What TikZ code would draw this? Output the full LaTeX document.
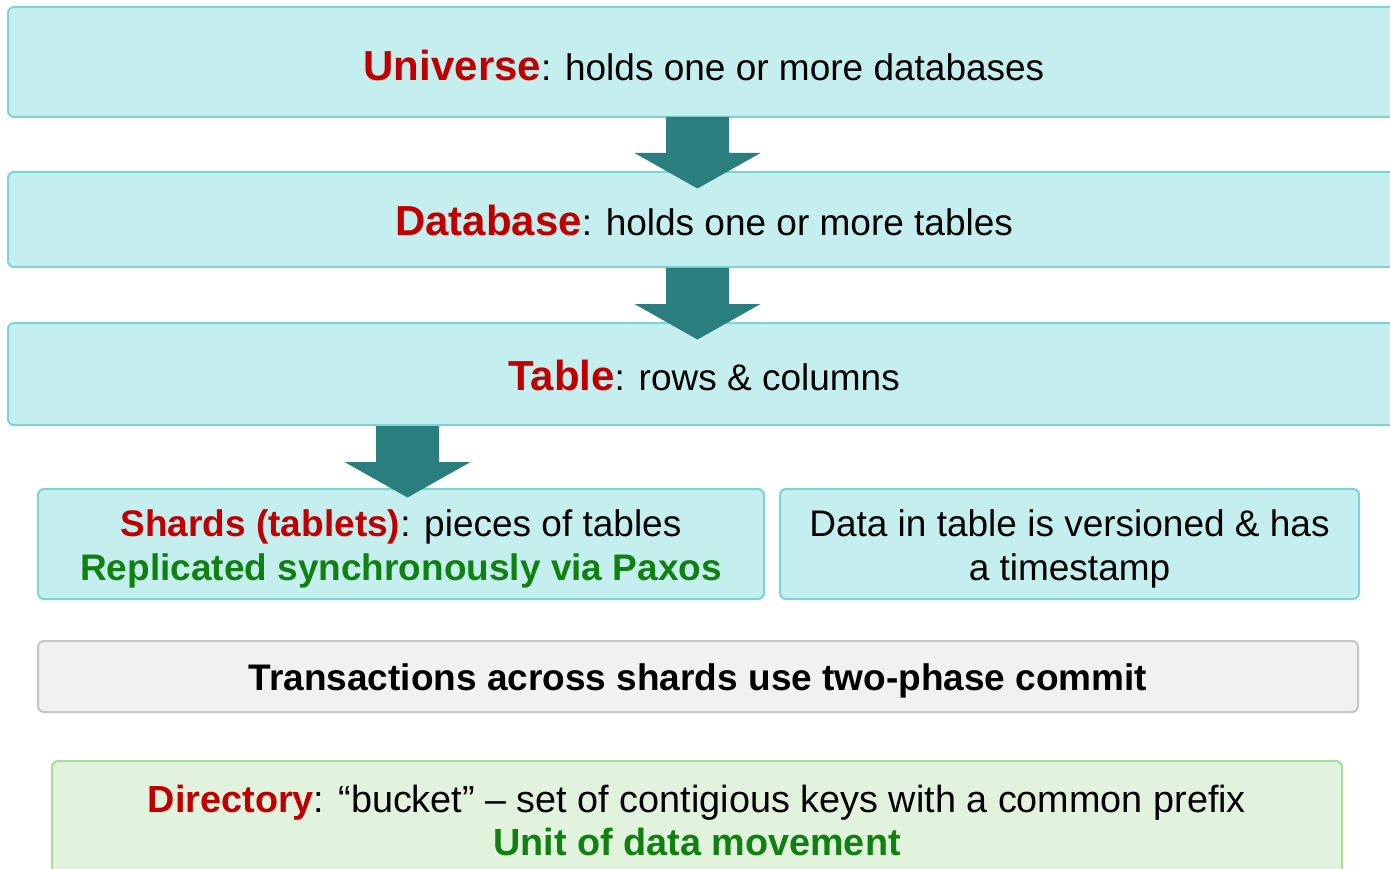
\documentclass[tikz,border=0pt]{standalone}
\usepackage{fontspec}
\setmainfont{Liberation Sans}
\definecolor{tealfill}{RGB}{197,239,239}
\definecolor{tealline}{RGB}{125,212,212}
\definecolor{arrowc}{RGB}{42,127,126}
\definecolor{redc}{RGB}{192,0,0}
\definecolor{greenc}{RGB}{16,128,16}
\definecolor{greyfill}{RGB}{241,241,241}
\definecolor{greyline}{RGB}{196,196,196}
\definecolor{gfill}{RGB}{225,242,221}
\definecolor{gline}{RGB}{168,221,160}
\newcommand\reg{\fontsize{37}{44}\selectfont}
\newcommand\bigb{\fontsize{42}{44}\selectfont\bfseries\color{redc}}
\newcommand\redb[1]{{\bfseries\color{redc}#1}}
\newcommand\grnb[1]{{\bfseries\color{greenc}#1}}
\newcommand\lift[1]{\rule{0pt}{#1}}
\begin{document}
\begin{tikzpicture}[x=1pt,y=1pt,
  base/.style={rounded corners=6pt, line width=2pt, inner sep=0pt, align=center, font=\reg},
  tealbox/.style={base, draw=tealline, fill=tealfill},
  greybox/.style={base, draw=greyline, fill=greyfill},
  greenbox/.style={base, draw=gline, fill=gfill},
  blockarr/.style={fill=arrowc}]
\useasboundingbox (0,0) rectangle (1390,-869);
\node[tealbox, minimum width=1392pt, minimum height=110pt] (uni) at (704,-62)
  {\lift{38pt}{\bigb Universe}: holds one or more databases};
\node[tealbox, minimum width=1392pt, minimum height=95pt] (db) at (704,-219.5)
  {\lift{33pt}{\bigb Database}: holds one or more tables};
\node[tealbox, minimum width=1392pt, minimum height=102pt] (tab) at (704,-374)
  {\lift{34pt}{\bigb Table}: rows \& columns};
\node[tealbox, minimum width=726pt, minimum height=110pt] (sh) at (401,-544)
  {\lift{37pt}\redb{Shards (tablets)}: pieces of tables\\ \grnb{Replicated synchronously via Paxos}};
\node[tealbox, minimum width=579pt, minimum height=110pt] (data) at (1069.5,-544)
  {\lift{36.5pt}Data in table is versioned \& has\\ a timestamp};
\node[greybox, minimum width=1320pt, minimum height=71pt] (tx) at (698,-676.5)
  {\lift{36pt}\bfseries Transactions across shards use two-phase commit};
\node[greenbox, minimum width=1290pt, minimum height=119pt, font=\fontsize{37.8}{43}\selectfont] (dir) at (697,-820.5)
  {\redb{Directory}: “bucket” – set of contigious keys with a common prefix\\ \grnb{Unit of data movement}};
\coordinate (a1) at (697.5,-117);
\coordinate (a2) at (697.5,-268);
\coordinate (a3) at (407.5,-426);
\foreach \a in {a1,a2,a3}
  \fill[blockarr] (\a) ++(-31.5,0) -- ++(0,-36) -- ++(-31.5,0) -- ++(63,-35.5) -- ++(63,35.5) -- ++(-31.5,0) -- ++(0,36) -- cycle;
\end{tikzpicture}
\end{document}
